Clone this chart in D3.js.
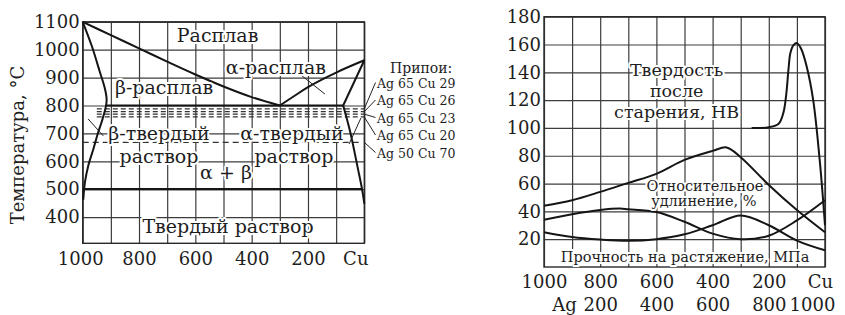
<!DOCTYPE html>
<html>
<head>
<meta charset="utf-8">
<script src="https://cdn.jsdelivr.net/npm/d3@7"></script>
<style>
  body { margin: 0; background: #fff; }
  svg { font-family: 'DejaVu Serif', serif; }
  text { fill: #1e1e1e; }
  .grid line { stroke: #3c3c3c; stroke-width: 1.2; }
  .grid .domain { display: none; }
  .ticks .domain { display: none; }
  .halo { paint-order: stroke; stroke: #fff; stroke-width: 4px; stroke-linejoin: round; }
</style>
</head>
<body>
<svg id="chart" width="845" height="315"></svg>
<script>
// ---- data ----
const compTicks = d3.range(0, 1001, 100)
const compLabelVals = [1000, 800, 600, 400, 200, 0]
const compLabels = ['1000', '800', '600', '400', '200', 'Cu']
const agLabels = ['Ag', '200', '400', '600', '800', '1000']
const tempTicks = [400, 500, 600, 700, 800, 900, 1000, 1100]
const propTicks = [20, 40, 60, 80, 100, 120, 140, 160, 180]

// phase diagram, [composition, °C]
const liquidusAg = [[1000, 1100], [900, 1052], [800, 1005], [700, 957], [600, 911], [500, 868], [400, 830], [300, 800]]
const liquidusCu = [[300, 800], [250, 833], [200, 866], [100, 918], [0, 962]]
const solidusCu = [[0, 962], [75, 800]]
const solvusCu = [[75, 800], [50, 705], [22, 570], [8, 500], [0, 448]]
const solvusAg = [[1000, 1100], [968, 1014], [939, 920], [921, 860], [915, 822], [918, 795], [933, 740], [945, 704], [962, 644], [980, 585], [992, 525], [998, 462]]
const eutecticT = 800
const eutectoidT = 500
const solderLabels = ['Ag 65 Cu 29', 'Ag 65 Cu 26', 'Ag 65 Cu 23', 'Ag 65 Cu 20', 'Ag 50 Cu 70']
const solderTemps = [788, 778, 769, 759, 668]

// properties, [composition, value]
const hardnessHB = [[261, 100], [200, 100.5], [165, 103], [148, 111], [138, 124], [130, 142], [123, 154], [112, 159.5], [100, 161], [85, 157], [65, 144], [42, 120], [18, 75], [0, 30]]
const seriesUpper = [[1000, 44], [900, 48], [800, 54], [700, 60.5], [600, 67], [500, 77], [400, 83.5], [350, 86], [300, 79], [200, 59], [100, 41], [0, 25]]
const seriesMiddle = [[1000, 34], [900, 38], [800, 41], [730, 42], [700, 41.5], [600, 39.5], [500, 32.5], [400, 24], [300, 20], [200, 22.5], [100, 33.5], [0, 48]]
const seriesLower = [[1000, 25], [900, 21.5], [800, 19.7], [700, 18.8], [600, 20], [500, 23.5], [400, 30], [300, 37], [200, 30], [100, 19], [0, 12]]

// ---- drawing ----
const svg = d3.select('#chart')

const xL = d3.scaleLinear().domain([1000, 0]).range([82.7, 364.3])
const yL = d3.scaleLinear().domain([306, 1100]).range([243.3, 21.8])
const xR = d3.scaleLinear().domain([1000, 0]).range([544, 825])
const yR = d3.scaleLinear().domain([0, 180]).range([267, 16.7])

function drawGrid(g, x, y, xt, yt) {
  const [yb, yt0] = y.range()
  const [xa, xb] = x.range()
  g.append('g').attr('class', 'grid')
    .attr('transform', `translate(0,${yb})`)
    .call(d3.axisBottom(x).tickValues(xt).tickSize(-(yb - yt0)).tickFormat(''))
  g.append('g').attr('class', 'grid')
    .attr('transform', `translate(${xa},0)`)
    .call(d3.axisLeft(y).tickValues(yt).tickSize(-(xb - xa)).tickFormat(''))
  g.append('rect')
    .attr('x', xa).attr('y', yt0).attr('width', xb - xa).attr('height', yb - yt0)
    .attr('fill', 'none').attr('stroke', '#2a2a2a').attr('stroke-width', 1.4)
}

function yTicks(g, x, y, vals) {
  g.append('g').attr('class', 'ticks')
    .attr('transform', `translate(${x.range()[0]},0)`)
    .call(d3.axisLeft(y).tickValues(vals).tickSize(0).tickPadding(3).tickFormat(d3.format('d')))
    .selectAll('text').attr('font-size', 18).attr('font-family', 'DejaVu Serif').attr('fill', '#1e1e1e')
}

function xTicks(g, x, y0, vals, labels, off) {
  const t = g.append('g').attr('class', 'ticks')
    .attr('transform', `translate(0,${y0})`)
    .call(d3.axisBottom(x).tickValues(vals).tickSize(0).tickFormat((d, i) => labels[i]))
  t.selectAll('text')
    .attr('y', off).attr('dy', '0.35em')
    .attr('font-size', 18).attr('font-family', 'DejaVu Serif').attr('fill', '#1e1e1e')
  return t
}

function label(g, x, y, txt, size) {
  return g.append('text').attr('class', 'halo')
    .attr('x', x).attr('y', y).attr('dy', '0.35em')
    .attr('text-anchor', 'middle').attr('font-size', size)
    .text(txt)
}

// ===== left chart: phase diagram =====
const gl = svg.append('g')
drawGrid(gl, xL, yL, compTicks, tempTicks)

const lineL = d3.line().x(d => xL(d[0])).y(d => yL(d[1]))
const smoothL = d3.line().x(d => xL(d[0])).y(d => yL(d[1])).curve(d3.curveCatmullRom.alpha(0.5))

// solder dashed lines
const dashLayer = gl.append('g')
solderTemps.forEach((t, i) => {
  const last = i === solderTemps.length - 1
  dashLayer.append('path')
    .attr('d', lineL(last ? [[1000, t], [12, t]] : [[950, t], [0, t]]))
    .attr('fill', 'none').attr('stroke', '#333').attr('stroke-width', 1.2)
    .attr('stroke-dasharray', last ? '6,4' : '5,3')
})

const curveLayer = gl.append('g').attr('fill', 'none').attr('stroke', '#151515')
curveLayer.append('path').attr('d', smoothL(liquidusAg)).attr('stroke-width', 2)
curveLayer.append('path').attr('d', smoothL(liquidusCu)).attr('stroke-width', 2)
curveLayer.append('path').attr('d', lineL(solidusCu)).attr('stroke-width', 2)
curveLayer.append('path').attr('d', smoothL(solvusCu)).attr('stroke-width', 2)
curveLayer.append('path').attr('d', smoothL(solvusAg)).attr('stroke-width', 2)
curveLayer.append('path').attr('d', lineL([[915, eutecticT], [75, eutecticT]])).attr('stroke-width', 2.2)
curveLayer.append('path').attr('d', lineL([[1000, eutectoidT], [8, eutectoidT]])).attr('stroke-width', 2.2)

// small leader ticks
const leaders = gl.append('g').attr('stroke', '#222').attr('stroke-width', 1)
leaders.append('path').attr('d', lineL([[222, 907], [140, 841]]))
leaders.append('path').attr('d', lineL([[981, 752], [927, 691]]))
leaders.append('path').attr('d', lineL([[54, 662], [12, 755]]))

// region labels
const tl = gl.append('g')
label(tl, xL(521), yL(1050), 'Расплав', 19)
label(tl, xL(314), yL(938), 'α-расплав', 19)
label(tl, xL(711), yL(866), 'β-расплав', 19)
label(tl, xL(729), yL(700), 'β-твердый', 19)
label(tl, xL(257), yL(700), 'α-твердый', 19)
label(tl, xL(729), yL(617), 'раствор', 19)
label(tl, xL(250), yL(617), 'раствор', 19)
label(tl, xL(491), yL(559), 'α + β', 19)
label(tl, xL(484), yL(368), 'Твердый раствор', 19)

// solder legend
gl.append('text').attr('x', 390).attr('y', 68).attr('dy', '0.35em')
  .attr('font-size', 14).text('Припои:')
solderLabels.forEach((s, i) => {
  const ly = 83.5 + i * 17.5
  gl.append('text').attr('x', 377).attr('y', ly).attr('dy', '0.35em')
    .attr('font-size', 12.5).text(s)
  gl.append('line')
    .attr('x1', xL(0)).attr('y1', yL(solderTemps[i]))
    .attr('x2', 375.5).attr('y2', ly - 1)
    .attr('stroke', '#222').attr('stroke-width', 1)
})

yTicks(gl, xL, yL, tempTicks)
const bl = xTicks(gl, xL, yL.range()[0], compLabelVals, compLabels, 15)
bl.selectAll('text').filter((d) => d === 0).attr('dx', -9)
bl.selectAll('text').filter((d) => d === 1000).attr('dx', -2.5)

gl.append('text')
  .attr('transform', 'translate(18,145) rotate(-90)')
  .attr('dy', '0.35em').attr('text-anchor', 'middle').attr('font-size', 18)
  .text('Температура, °C')

// ===== right chart: properties =====
const gr = svg.append('g')
drawGrid(gr, xR, yR, compTicks, propTicks)

const smoothR = d3.line().x(d => xR(d[0])).y(d => yR(d[1])).curve(d3.curveCatmullRom.alpha(0.5))
const curvesR = gr.append('g').attr('fill', 'none').attr('stroke', '#151515').attr('stroke-width', 2)
;[hardnessHB, seriesUpper, seriesMiddle, seriesLower].forEach(s => {
  curvesR.append('path').attr('d', smoothR(s))
})

const tr = gr.append('g')
label(tr, xR(528), yR(142), 'Твердость', 17.5)
label(tr, xR(528), yR(126.8), 'после', 17.5)
label(tr, xR(528), yR(111.6), 'старения, HB', 17.5)
label(tr, xR(427), yR(58), 'Относительное', 14.5)
label(tr, xR(431), yR(47.5), 'удлинение, %', 14.5)
label(tr, xR(498), yR(7), 'Прочность на растяжение, МПа', 14.5)

yTicks(gr, xR, yR, propTicks)
const br = xTicks(gr, xR, yR.range()[0], compLabelVals, compLabels, 15)
br.selectAll('text').filter((d) => d === 0).attr('dx', -5)
const br2 = xTicks(gr, xR, yR.range()[0], compLabelVals, agLabels, 38)
br2.selectAll('text').filter((d) => d === 1000).attr('dx', 20)
br2.selectAll('text').filter((d) => d === 0).attr('dx', -13)
</script>
</body>
</html>
